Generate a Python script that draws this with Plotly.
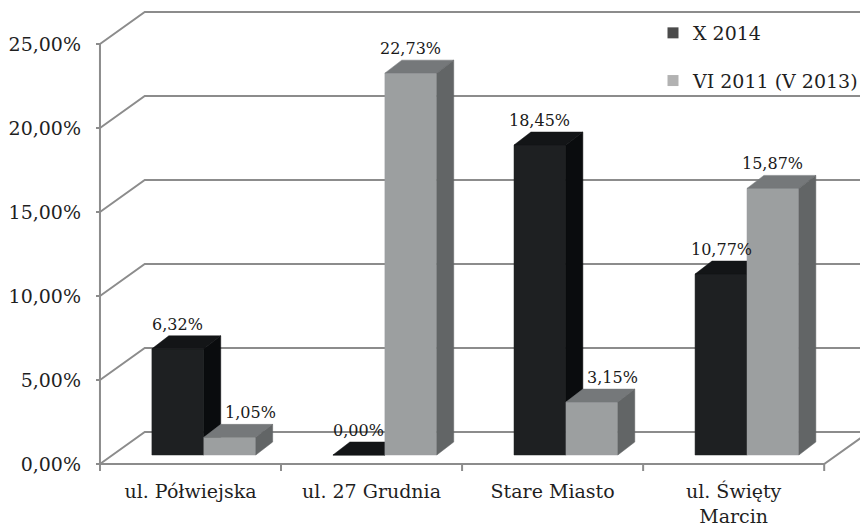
import plotly.graph_objects as go

# ---------------- data ----------------
categories = ["ul. Półwiejska", "ul. 27 Grudnia", "Stare Miasto", "ul. Święty<br>Marcin"]
series_names = ["X 2014", "VI 2011 (V 2013)"]
x2014 = [6.32, 0.00, 18.45, 10.77]
vi2011 = [1.05, 22.73, 3.15, 15.87]
y_ticks = [0, 5, 10, 15, 20, 25]
y_ticktext = [f"{v:.2f}".replace(".", ",") + "%" for v in y_ticks]

# ---------------- styling / geometry (pixels) ----------------
W, H = 864, 527
PX_X0 = 100          # front-left corner pixel x (category boundary -0.5)
PX_Y0 = 464          # front floor pixel y (0 %)
PX_PER_CAT = 182
PX_PER_PCT = 16.8
PLOT_L, PLOT_R, PLOT_T, PLOT_B = 94, 864, 0, 473

FONT = "DejaVu Serif"
GRID = "#8c8c8c"
DARK = dict(front="#1e2022", top="#131517", side="#0a0c0e", legend="#4b4b4b")
LIGHT = dict(front="#9c9fa0", top="#75787a", side="#626566", legend="#b2b2b2")


def ux(px):
    return px / PX_PER_CAT


def uy(px):
    return px / PX_PER_PCT


x_range = [-0.5 - ux(PX_X0 - PLOT_L), -0.5 + ux(PLOT_R - PX_X0)]
y_range = [-uy(PLOT_B - PX_Y0), uy(PX_Y0 - PLOT_T)]

WDX, WDY = ux(45), uy(32)     # wall depth
PDX, PDY = ux(13.4), uy(9)    # bar plane offset
BW = ux(52.2)                 # bar width
BDX, BDY = ux(17), uy(13)     # bar depth

n = len(categories)
left, right = -0.5, n - 0.5

fig = go.Figure()

# ---------------- walls, floor, ticks ----------------
lx, ly = [], []


def seg(pts):
    for px_, py_ in pts:
        lx.append(px_)
        ly.append(py_)
    lx.append(None)
    ly.append(None)


for v in y_ticks:
    seg([(left, v), (left + WDX, v + WDY), (right + WDX + 1, v + WDY)])
    seg([(left - ux(4), v), (left, v)])
seg([(left, 0), (left, y_ticks[-1])])
seg([(left, 0), (right, 0), (right + WDX, WDY)])
for k in range(n + 1):
    seg([(left + k, 0), (left + k, -uy(7))])

fig.add_trace(go.Scatter(x=lx, y=ly, mode="lines", line=dict(color=GRID, width=2),
                         hoverinfo="skip", showlegend=False))


# ---------------- 3D bars ----------------
def add_series(vals, name, colors, offset):
    fx, fy, tx, ty, sx, sy = [], [], [], [], [], []
    for i, v in enumerate(vals):
        x0 = i + PDX + offset
        x1 = x0 + BW
        b = PDY
        t = b + v
        for px_, py_ in [(x0, b), (x1, b), (x1, t), (x0, t), (x0, b)]:
            fx.append(px_); fy.append(py_)
        fx.append(None); fy.append(None)
        for px_, py_ in [(x0, t), (x1, t), (x1 + BDX, t + BDY), (x0 + BDX, t + BDY), (x0, t)]:
            tx.append(px_); ty.append(py_)
        tx.append(None); ty.append(None)
        for px_, py_ in [(x1, b), (x1 + BDX, b + BDY), (x1 + BDX, t + BDY), (x1, t), (x1, b)]:
            sx.append(px_); sy.append(py_)
        sx.append(None); sy.append(None)
    for xs, ys, c in [(fx, fy, colors["front"]), (tx, ty, colors["top"]), (sx, sy, colors["side"])]:
        fig.add_trace(go.Scatter(x=xs, y=ys, mode="lines", fill="toself", fillcolor=c,
                                 line=dict(width=0.5, color=c), hoverinfo="skip",
                                 showlegend=False, legendgroup=name))
    # legend entry
    fig.add_trace(go.Scatter(x=[None], y=[None], mode="markers", name=name, legendgroup=name,
                             marker=dict(symbol="square", size=11, color=colors["legend"])))


add_series(x2014, series_names[0], DARK, -BW)
add_series(vi2011, series_names[1], LIGHT, 0)

# ---------------- value labels ----------------
annotations = []
for s, vals in enumerate([x2014, vi2011]):
    for i, v in enumerate(vals):
        xc = i + PDX + (-BW / 2 if s == 0 else BW / 2)
        shift = 0
        if s == 1 and x2014[i] > v:
            shift = 21
        annotations.append(dict(
            x=xc, y=PDY + v + BDY, xref="x", yref="y",
            text=f"{v:.2f}".replace(".", ",") + "%",
            showarrow=False, yanchor="bottom", xanchor="center",
            xshift=shift, yshift=0,
            font=dict(family=FONT, size=16, color="#1a1a1a")))

fig.update_layout(
    width=W, height=H,
    margin=dict(l=PLOT_L, r=W - PLOT_R, t=PLOT_T, b=H - PLOT_B),
    paper_bgcolor="white", plot_bgcolor="white",
    font=dict(family=FONT, size=19, color="#1f1f1f"),
    annotations=annotations,
    showlegend=True,
    legend=dict(x=(656 - PLOT_L) / (PLOT_R - PLOT_L), xanchor="left",
                y=1.0 - 14 / (PLOT_B - PLOT_T), yanchor="top", bgcolor="rgba(0,0,0,0)",
                font=dict(family=FONT, size=19, color="#1f1f1f"),
                tracegroupgap=20, itemwidth=30),
    xaxis=dict(range=x_range, showgrid=False, zeroline=False, showline=False,
               tickmode="array", tickvals=list(range(n)), ticktext=categories,
               ticks="", ticklabelstandoff=5, fixedrange=True,
               tickfont=dict(family=FONT, size=19, color="#1f1f1f")),
    yaxis=dict(range=y_range, showgrid=False, zeroline=False, showline=False,
               tickmode="array", tickvals=y_ticks, ticktext=y_ticktext,
               ticks="", ticklabelstandoff=12, fixedrange=True,
               tickfont=dict(family=FONT, size=19, color="#1f1f1f")),
)

fig.write_html("out.html")
